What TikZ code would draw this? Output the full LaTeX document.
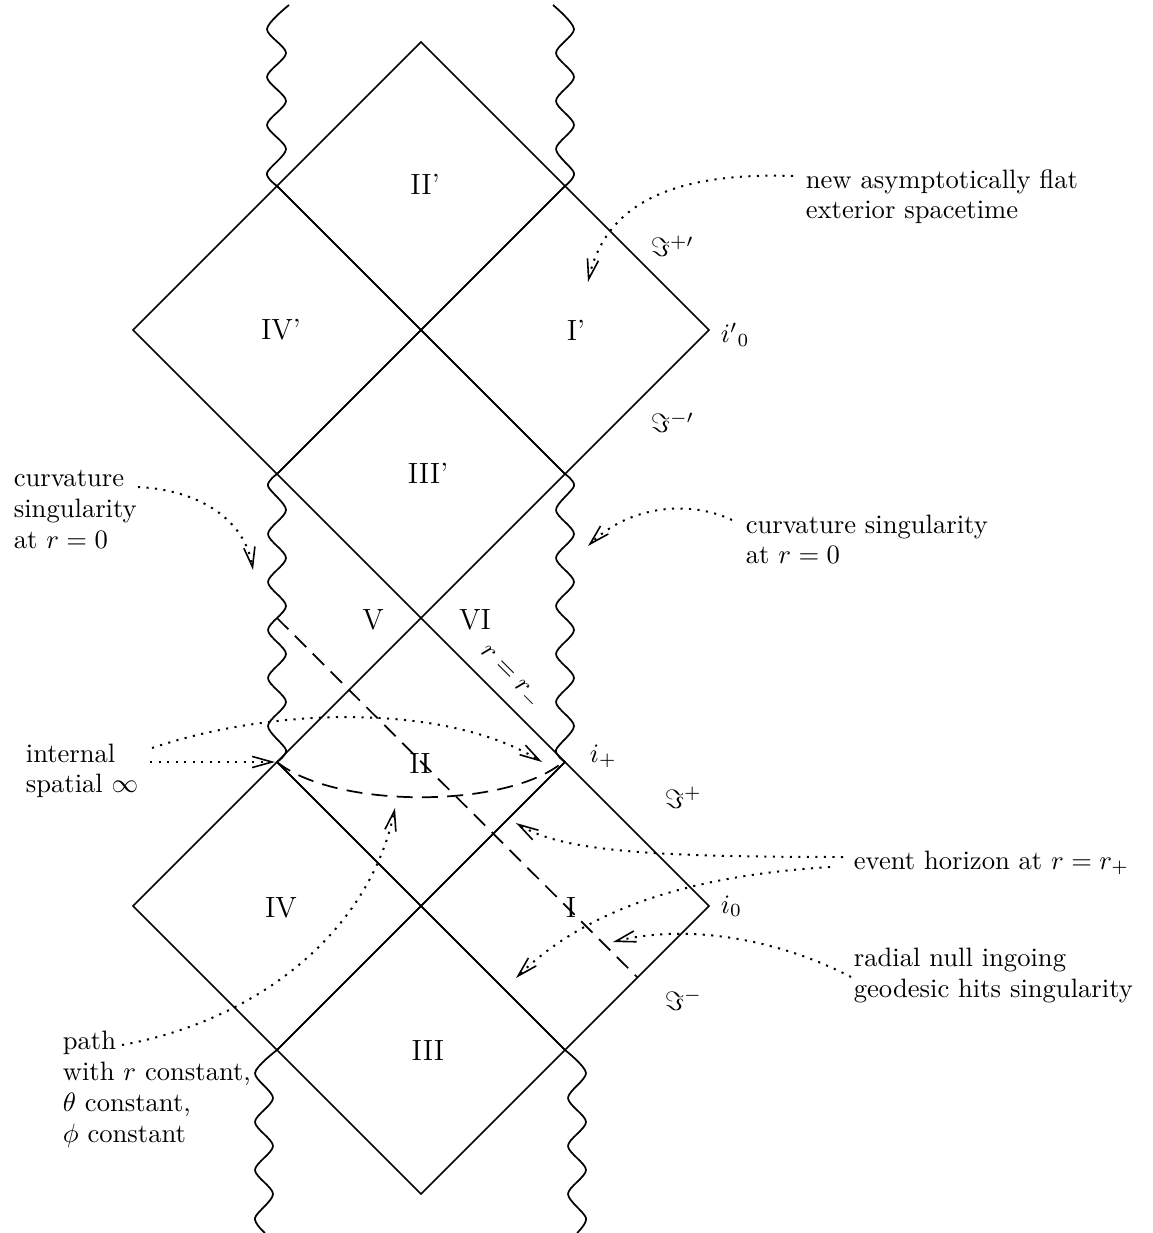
\documentclass[tikz,border=0pt]{standalone}
\usetikzlibrary{arrows.meta}
\begin{document}
\begin{tikzpicture}[x=0.376pt,y=-0.376pt,
  line width=0.65pt,
  note/.style={dash pattern=on 0.8pt off 2.4pt, line width=0.75pt,
    -{Straight Barb[length=7.5pt,width=4.2pt,line width=0.6pt]}},
  dashline/.style={dash pattern=on 6pt off 3.5pt, line width=0.65pt},
  txt/.style={anchor=base west, inner sep=0pt},
  reg/.style={anchor=base, inner sep=0pt, font=\fontsize{11}{13}\selectfont},
  sing/.style={line width=0.65pt},
]
\useasboundingbox (0,0) rectangle (1152,1233);

% diamonds of the lattice
\foreach \cx/\cy in {421/186, 277/330, 565/330, 421/474, 421/762, 277/906, 565/906, 421/1050}
  \draw (\cx,\cy-144) -- (\cx+144,\cy) -- (\cx,\cy+144) -- (\cx-144,\cy) -- cycle;

% curvature singularities (wavy lines)
\draw[sing] plot[smooth, tension=0.5] coordinates {(289,5) (267,29) (286,53) (267,77) (286,101) (267,125) (286,149) (267,173) (277,186)};
\draw[sing] plot[smooth, tension=0.5] coordinates {(553,5) (574,29) (556,53) (574,77) (556,101) (574,125) (556,149) (574,173) (565,186)};
\draw[sing] plot[smooth, tension=0.5] coordinates {(277,474) (268,486) (286,510) (268,534) (286,558) (268,582) (286,606) (268,630) (286,654) (268,678) (286,702) (268,726) (286,750) (277,762)};
\draw[sing] plot[smooth, tension=0.5] coordinates {(565,474) (574,486) (556,510) (574,534) (556,558) (574,582) (556,606) (574,630) (556,654) (574,678) (556,702) (574,726) (556,750) (565,762)};
\draw[sing] plot[smooth, tension=0.5] coordinates {(277,1050) (255,1073) (273,1098) (255,1122) (273,1146) (255,1170) (273,1194) (255,1218) (265,1233)};
\draw[sing] plot[smooth, tension=0.5] coordinates {(565,1050) (586,1073) (568,1098) (586,1122) (568,1146) (586,1170) (568,1194) (586,1218) (577,1233)};

% region labels
\node[reg] (IIp) at (425,195) {II'};
\node[reg] (IVp) at (281,340) {IV'};
\node[reg] (Ip) at (576,341) {I'};
\node[reg] (IIIp) at (428,484) {III'};
\node[reg] (V) at (373,630) {V};
\node[reg] (VI) at (475,630) {VI};
\node[reg] (II) at (420,773) {II};
\node[reg] (IV) at (281,917) {IV};
\node[reg] (I) at (571,917) {I};
\node[reg] (III) at (428,1060) {III};

% boundary labels
\node[txt] (scrpp) at (650,257) {$\Im^{+\prime}$};
\node[txt] (izp) at (720,343) {${i'}_0$};
\node[txt] (scrmp) at (650,433) {$\Im^{-\prime}$};
\node[txt] (iplus) at (589,762) {$i_+$};
\node[txt] (scrp) at (664,808) {$\Im^+$};
\node[txt] (izero) at (720,913) {$i_0$};
\node[txt] (scrm) at (664,1010) {$\Im^-$};
\node[inner sep=0pt, rotate=-45] (rminus) at (509,678) {$r=r_-$};

% annotations
\node[txt] (na1) at (805,189) {new asymptotically flat};
\node[txt] (na2) at (805,219) {exterior spacetime};
\node[txt] (cl1) at (13,487) {curvature};
\node[txt] (cl2) at (13,518) {singularity};
\node[txt] (cl3) at (13,549) {at $r=0$};
\node[txt] (cr1) at (745,534) {curvature singularity};
\node[txt] (cr2) at (745,564) {at $r=0$};
\node[txt] (in1) at (25,762) {internal};
\node[txt] (in2) at (25,792) {spatial $\infty$};
\node[txt] (eh) at (853,869) {event horizon at $r=r_+$};
\node[txt] (rn1) at (853,966) {radial null ingoing};
\node[txt] (rn2) at (853,997) {geodesic hits singularity};
\node[txt] (pa1) at (62,1049) {path};
\node[txt] (pa2) at (62,1080) {with $r$ constant,};
\node[txt] (pa3) at (62,1111) {$\theta$ constant,};
\node[txt] (pa4) at (62,1142) {$\phi$ constant};

% connector end points
\coordinate (naS) at (793,176);   \coordinate (naT) at (588,282);
\coordinate (clS) at (138,487);   \coordinate (clT) at (253,570);
\coordinate (crS) at (732,520);   \coordinate (crT) at (588,546);
\coordinate (inS1) at (150,762);  \coordinate (inT1) at (275,762);
\coordinate (inS2) at (152,748);  \coordinate (inT2) at (542,762);
\coordinate (ehS1) at (843,857);  \coordinate (ehT1) at (516,823);
\coordinate (ehS2) at (830,867);  \coordinate (ehT2) at (516,978);
\coordinate (rnS) at (851,977);   \coordinate (rnT) at (613,942);
\coordinate (paS) at (122,1045);  \coordinate (paT) at (395,808);

\draw[note] (naS) .. controls (670,172) and (605,205) .. (naT);
\draw[note] (clS) .. controls (200,490) and (245,520) .. (clT);
\draw[note] (crS) .. controls (690,500) and (630,505) .. (crT);
\draw[note] (inS1) -- (inT1);
\draw[note] (inS2) .. controls (280,705) and (450,705) .. (inT2);
\draw[note] (ehS1) .. controls (640,857) and (560,850) .. (ehT1);
\draw[note] (ehS2) .. controls (700,875) and (590,905) .. (ehT2);
\draw[note] (rnS) .. controls (770,935) and (680,925) .. (rnT);
\draw[note] (paS) .. controls (260,1020) and (370,930) .. (paT);

% dashed paths
\coordinate (gS) at (277,618); \coordinate (gE) at (637,977);
\draw[dashline] (gS) -- (gE);
\coordinate (cS) at (277,762); \coordinate (cE) at (563,762);
\draw[dashline] (cS) .. controls (335,809) and (507,809) .. (cE);
\end{tikzpicture}
\end{document}
